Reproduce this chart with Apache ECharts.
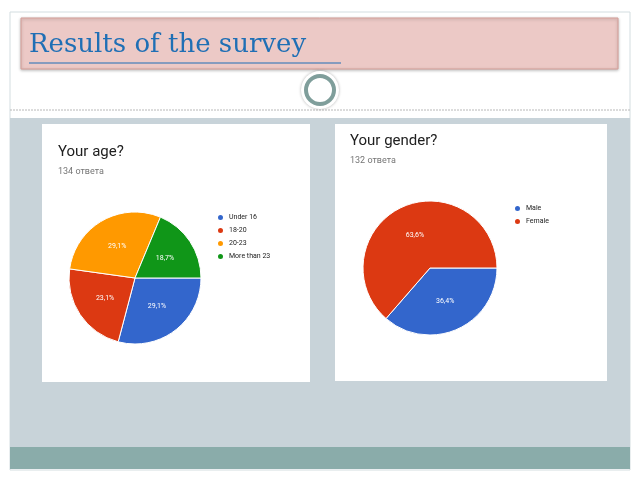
<!DOCTYPE html>
<html><head><meta charset="utf-8">
<script src="https://cdn.jsdelivr.net/npm/echarts@6/dist/echarts.min.js"></script>
<style>html,body{margin:0;padding:0;background:#fff}#main{width:640px;height:480px}</style>
</head><body><div id="main"></div>
<script>
var ageNames = ['Under 16', '18-20', '20-23', 'More than 23'];
var ageValues = [29.1, 23.1, 29.1, 18.7];
var genderNames = ['Male', 'Female'];
var genderValues = [36.4, 63.6];
var colors = ['#3366cc', '#dc3912', '#ff9900', '#109618'];

var c = echarts.init(document.getElementById('main'));
function pct(p) { return p.value.toFixed(1).replace('.', ','); }
function toData(names, vals) {
  return names.map(function (n, i) { return { name: n, value: vals[i] }; });
}
var labelStyle = { show: true, position: 'inside', color: '#fff', fontSize: 7, fontFamily: 'Roboto',
  formatter: function (p) { return pct(p) + '%'; } };
var font = 'Roboto';

c.setOption({
  animation: false,
  color: colors,
  graphic: [
    { type: 'rect', shape: { x: 10, y: 12, width: 620, height: 458 }, style: { fill: '#fff', stroke: '#d3dde0', lineWidth: 1 } },
    { type: 'rect', shape: { x: 10, y: 118, width: 620, height: 330 }, style: { fill: '#c8d3d9' } },
    { type: 'rect', shape: { x: 10, y: 447, width: 620, height: 22 }, style: { fill: '#8aacaa' } },
    { type: 'line', shape: { x1: 10, y1: 110, x2: 630, y2: 110 }, style: { stroke: '#b8b8b8', lineDash: [2, 1], lineWidth: 1 } },
    { type: 'rect', shape: { x: 21, y: 18, width: 597, height: 51 }, style: { fill: '#ecc9c6', stroke: '#d59e98', lineWidth: 1, shadowColor: 'rgba(0,0,0,0.25)', shadowBlur: 3, shadowOffsetY: 1 } },
    { type: 'text', left: 29, top: 32, style: { text: 'Results of the survey', fill: '#1f6fb5', font: '26px "DejaVu Serif"' } },
    { type: 'line', shape: { x1: 29, y1: 63, x2: 341, y2: 63 }, style: { stroke: '#1f6fb5', lineWidth: 1.2 } },
    { type: 'circle', shape: { cx: 320, cy: 90, r: 19 }, style: { fill: '#fff', shadowColor: 'rgba(0,0,0,0.3)', shadowBlur: 3 } },
    { type: 'circle', shape: { cx: 320, cy: 90, r: 14 }, style: { fill: '#fff', stroke: '#7f9e9b', lineWidth: 4 } },
    { type: 'rect', shape: { x: 42, y: 124, width: 268, height: 258 }, style: { fill: '#fff' } },
    { type: 'rect', shape: { x: 335, y: 124, width: 272, height: 257 }, style: { fill: '#fff' } },
    { type: 'text', left: 58, top: 145, style: { text: 'Your age?', fill: '#212121', font: '15px ' + font } },
    { type: 'text', left: 58, top: 167, style: { text: '134 ответа', fill: '#757575', font: '9px ' + font } },
    { type: 'text', left: 350, top: 134, style: { text: 'Your gender?', fill: '#212121', font: '15px ' + font } },
    { type: 'text', left: 350, top: 156, style: { text: '132 ответа', fill: '#757575', font: '9px ' + font } }
  ],
  legend: [
    { data: ageNames, orient: 'vertical', left: 211, top: 208, itemGap: 4, itemWidth: 7, itemHeight: 7, icon: 'circle',
      textStyle: { fontSize: 7, color: '#222', fontFamily: font } },
    { data: genderNames, orient: 'vertical', left: 508, top: 199, itemGap: 4, itemWidth: 7, itemHeight: 7, icon: 'circle',
      textStyle: { fontSize: 7, color: '#222', fontFamily: font } }
  ],
  series: [
    { type: 'pie', center: [135, 278], radius: 66, startAngle: 0, clockwise: true,
      data: toData(ageNames, ageValues), label: labelStyle, labelLine: { show: false },
      itemStyle: { borderColor: '#fff', borderWidth: 1 } },
    { type: 'pie', center: [430, 268], radius: 67, startAngle: 0, clockwise: true,
      data: toData(genderNames, genderValues), label: labelStyle, labelLine: { show: false },
      itemStyle: { borderColor: '#fff', borderWidth: 1 } }
  ]
});
</script></body></html>
